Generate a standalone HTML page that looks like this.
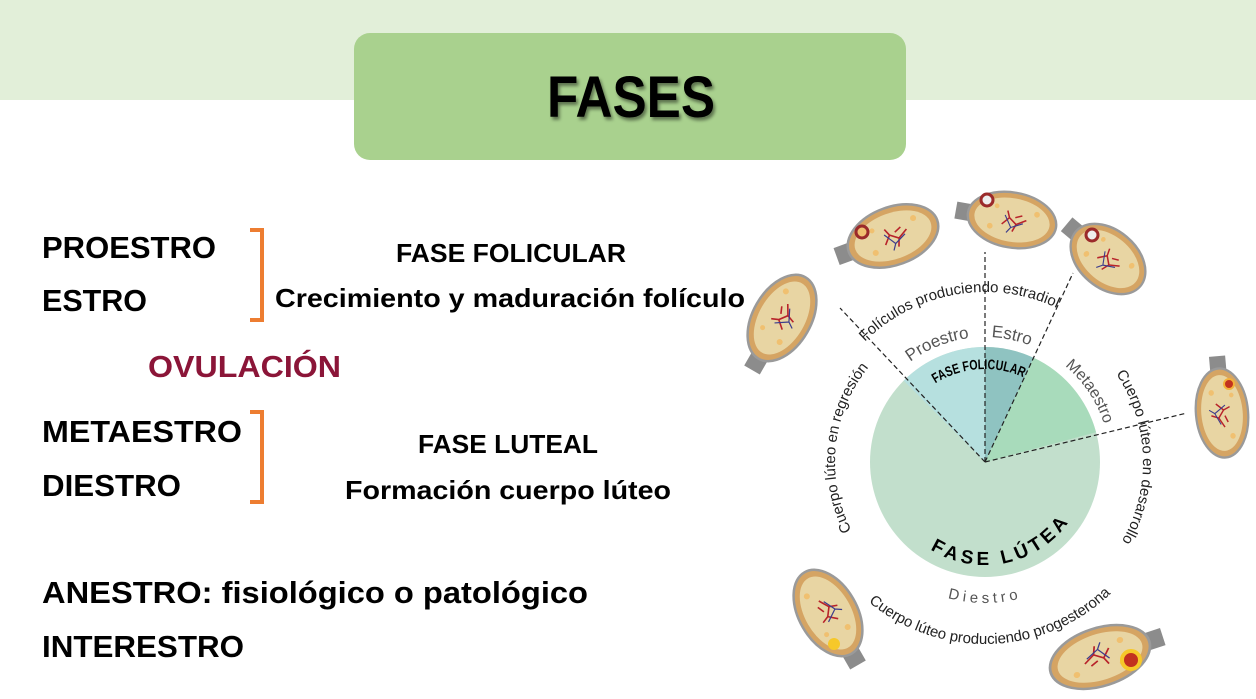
<!DOCTYPE html>
<html><head><meta charset="utf-8"><style>
html,body{margin:0;padding:0;background:#fff;}
svg{display:block;}
.b{font-family:"Liberation Sans",sans-serif;font-weight:bold;fill:#000;}
.a{font-family:"Liberation Sans",sans-serif;fill:#222;}
</style></head><body>
<svg width="1256" height="699" viewBox="0 0 1256 699" xmlns="http://www.w3.org/2000/svg">
<defs>
<filter id="sh" x="-10%" y="-10%" width="130%" height="140%"><feDropShadow dx="2" dy="3" stdDeviation="1.5" flood-color="#000" flood-opacity="0.45"/></filter>
<g id="ov">
  <rect x="38" y="-9" width="22" height="18" fill="#8c8c8c"/>
  <ellipse cx="0" cy="0" rx="47" ry="29" fill="#d5a463" stroke="#9a9a9a" stroke-width="2.5"/>
  <ellipse cx="0" cy="0" rx="40" ry="23" fill="#e8d5a3"/>
  <path d="M-15 2 L-5 -4 L3 2 L10 -6 M-5 -4 L-2 -12 M3 2 L6 9 M-10 6 L-3 3" stroke="#b8232a" stroke-width="1.6" fill="none"/>
  <path d="M-12 -2 L0 -8 L8 4 M0 -8 L4 -14" stroke="#3c3c8c" stroke-width="1.2" fill="none"/>
  <circle cx="22" cy="-10" r="3" fill="#f0c070"/><circle cx="-25" cy="10" r="3" fill="#f0c070"/><circle cx="18" cy="12" r="2.5" fill="#f0c070"/>
</g>
</defs>

<rect x="0" y="0" width="1256" height="100" fill="#e2efd9"/>
<rect x="354" y="33" width="552" height="127" rx="16" fill="#a9d18e"/>
<text x="631" y="117" text-anchor="middle" class="b" font-size="58" textLength="168" lengthAdjust="spacingAndGlyphs" filter="url(#sh)">FASES</text>

<text x="42" y="258" class="b" font-size="31" textLength="174" lengthAdjust="spacingAndGlyphs">PROESTRO</text>
<text x="42" y="311" class="b" font-size="31" textLength="105" lengthAdjust="spacingAndGlyphs">ESTRO</text>
<text x="148" y="377" class="b" font-size="31" textLength="193" lengthAdjust="spacingAndGlyphs" style="fill:#8b1538">OVULACIÓN</text>
<text x="42" y="442" class="b" font-size="31" textLength="200" lengthAdjust="spacingAndGlyphs">METAESTRO</text>
<text x="42" y="496" class="b" font-size="31" textLength="139" lengthAdjust="spacingAndGlyphs">DIESTRO</text>
<text x="42" y="603" class="b" font-size="31" textLength="546" lengthAdjust="spacingAndGlyphs">ANESTRO: fisiológico o patológico</text>
<text x="42" y="657" class="b" font-size="31" textLength="202" lengthAdjust="spacingAndGlyphs">INTERESTRO</text>

<text x="396" y="262" class="b" font-size="26" textLength="230" lengthAdjust="spacingAndGlyphs">FASE FOLICULAR</text>
<text x="275" y="307" class="b" font-size="26" textLength="470" lengthAdjust="spacingAndGlyphs">Crecimiento y maduración folículo</text>
<text x="418" y="453" class="b" font-size="26" textLength="180" lengthAdjust="spacingAndGlyphs">FASE LUTEAL</text>
<text x="345" y="499" class="b" font-size="26" textLength="326" lengthAdjust="spacingAndGlyphs">Formación cuerpo lúteo</text>

<path d="M250 230 H262 V320 H250" fill="none" stroke="#ed7d31" stroke-width="4"/>
<path d="M250 412 H262 V502 H250" fill="none" stroke="#ed7d31" stroke-width="4"/>

<g transform="translate(985,462)">
  <circle r="115" fill="#c2dfcc"/>
  <path d="M0 0 L-81.3 -81.3 A115 115 0 0 1 0 -115 Z" fill="#b6e0df"/>
  <path d="M0 0 L0 -115 A115 115 0 0 1 48.6 -104.2 Z" fill="#8fc3c1"/>
  <path d="M0 0 L48.6 -104.2 A115 115 0 0 1 111 -29.8 Z" fill="#a8dbbb"/>
  <g stroke="#222" stroke-width="1.2" stroke-dasharray="5,3" fill="none">
    <line x1="0" y1="0" x2="-145" y2="-154"/>
    <line x1="0" y1="0" x2="0" y2="-210"/>
    <line x1="0" y1="0" x2="88" y2="-189"/>
    <line x1="0" y1="0" x2="202" y2="-49"/>
  </g>
  <defs>
    <path id="t93" d="M-93,0 A93,93 0 0 1 93,0"/>
    <path id="t125" d="M-125,0 A125,125 0 0 1 125,0"/>
    <path id="t170" d="M-170,0 A170,170 0 0 1 170,0"/>
    <path id="t150" d="M-150,0 A150,150 0 0 1 150,0"/>
    <path id="t158" d="M-158,0 A158,158 0 0 1 158,0"/>
    <path id="b103" d="M-103,0 A103,103 0 0 0 103,0"/>
    <path id="b141" d="M-141,0 A141,141 0 0 0 141,0"/>
    <path id="b182" d="M-182,0 A182,182 0 0 0 182,0"/>
  </defs>
  <text class="b" font-size="14" transform="rotate(-4)"><textPath href="#t93" startOffset="50%" text-anchor="middle" textLength="92" lengthAdjust="spacingAndGlyphs">FASE FOLICULAR</textPath></text>
  <text class="a" font-size="17" transform="rotate(-22)" style="fill:#555"><textPath href="#t125" startOffset="50%" text-anchor="middle">Proestro</textPath></text>
  <text class="a" font-size="17" transform="rotate(12)" style="fill:#555"><textPath href="#t125" startOffset="50%" text-anchor="middle">Estro</textPath></text>
  <text class="a" font-size="16" transform="rotate(56)" style="fill:#555"><textPath href="#t125" startOffset="50%" text-anchor="middle">Metaestro</textPath></text>
  <text class="a" font-size="15" transform="rotate(-10)"><textPath href="#t170" startOffset="50%" text-anchor="middle">Folículos produciendo estradiol</textPath></text>
  <text class="a" font-size="15" transform="rotate(-84)"><textPath href="#t150" startOffset="50%" text-anchor="middle">Cuerpo lúteo en regresión</textPath></text>
  <text class="a" font-size="15" transform="rotate(88)"><textPath href="#t158" startOffset="50%" text-anchor="middle">Cuerpo lúteo en desarrollo</textPath></text>
  <text class="b" font-size="19" letter-spacing="4" transform="rotate(-12)"><textPath href="#b103" startOffset="50%" text-anchor="middle">FASE LÚTEA</textPath></text>
  <text class="a" font-size="15" letter-spacing="4" style="fill:#555"><textPath href="#b141" startOffset="50%" text-anchor="middle">Diestro</textPath></text>
  <text class="a" font-size="15" transform="rotate(-2)"><textPath href="#b182" startOffset="50%" text-anchor="middle">Cuerpo lúteo produciendo progesterona</textPath></text>
</g>

<use href="#ov" transform="translate(893,236) rotate(160)"/>
<use href="#ov" transform="translate(1012,220) rotate(190) scale(0.95,0.95)"/>
<use href="#ov" transform="translate(1108,259) rotate(220) scale(0.9,1)"/>
<use href="#ov" transform="translate(782,318) rotate(120)"/>
<use href="#ov" transform="translate(1222,413) rotate(-95) scale(0.95,0.9)"/>
<use href="#ov" transform="translate(828,613) rotate(60)"/>
<use href="#ov" transform="translate(1100,657) rotate(-18) scale(1.1,1)"/>
<circle cx="862" cy="232" r="6" fill="#f0c070" stroke="#9b2a2a" stroke-width="3"/>
<circle cx="987" cy="200" r="6" fill="#eee" stroke="#9b2a2a" stroke-width="3"/>
<circle cx="1092" cy="235" r="6" fill="#eee" stroke="#9b2a2a" stroke-width="3"/>
<circle cx="1229" cy="384" r="5" fill="#c2311f" stroke="#f3b13a" stroke-width="2"/>
<circle cx="1131" cy="660" r="9" fill="#c2311f" stroke="#f6c82a" stroke-width="4"/>
<circle cx="834" cy="644" r="6" fill="#f6c82a"/>
</svg>
</body></html>
